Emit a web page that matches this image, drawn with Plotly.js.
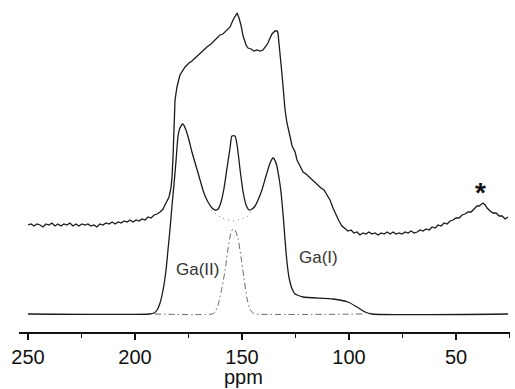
<!DOCTYPE html>
<html>
<head>
<meta charset="utf-8">
<script src="https://cdn.plot.ly/plotly-3.0.1.min.js"></script>
<style>html,body{margin:0;padding:0;background:#fff;}#chart{width:515px;height:389px;}</style>
</head>
<body>
<div id="chart"></div>
<script>
// Experimental spectrum (ppm, intensity)
var expPpm = [250,248.6,247.2,245.8,244.4,243.0,241.6,240.2,238.8,237.4,236.0,234.6,233.2,231.8,230.4,229.0,227.6,226.2,224.8,223.4,222.0,220.6,219.2,217.8,216.4,215.0,213.6,212.1,210.7,209.3,207.9,206.5,205.1,203.7,202.3,200.9,199.5,198.1,196.7,195.3,193.9,192.5,191.1,189.7,188.3,186.9,186.0,185.0,184.1,183.2,182.7,182.2,181.8,181.3,180.4,179.0,176.6,174.8,173.4,171.5,169.6,167.8,166.4,164.5,163.1,161.7,160.3,158.9,157.0,155.6,154.2,153.3,152.3,151.4,150.5,149.5,148.1,147.2,145.8,144.4,143.0,141.6,140.2,138.8,137.9,136.9,136.0,134.6,133.6,133.2,132.7,132.2,131.3,130.8,129.9,129.0,128.0,126.6,125.2,124.3,122.9,121.5,120.1,118.7,117.3,115.9,114.5,113.1,111.7,110.3,108.9,107.5,106.1,104.7,103.3,101.9,100.5,99.1,97.7,96.3,94.9,93.5,92.1,90.7,89.3,87.9,86.4,85.0,83.6,82.2,80.8,79.4,78.0,76.6,75.2,73.8,72.4,71.0,69.6,68.2,66.8,65.4,64.0,62.6,61.2,59.8,58.4,57.0,55.6,54.2,52.8,51.4,50.0,48.6,47.2,45.8,44.4,43.0,41.6,40.2,39.3,38.3,37.4,36.4,35.5,34.1,32.7,31.3,29.9,28.5,27.1,25.7];
var expInt = [89,90,88,90,89,87,90,89,91,88,90,88,90,89,91,88,90,88,90,89,90,88,89,87,90,89,91,90,92,90,92,91,93,92,94,92,94,93,95,94,97,96,99,100,102,105,109,113,117,126,137,159,189,214,227,239,247,251,253,257,261,264,267,270,273,276,279,280,284,287,294,298,301,296,289,278,269,266,265,263,264,263,264,268,271,276,280,283,283,281,272,259,239,224,204,191,181,168,162,154,148,142,140,137,134,132,129,126,124,119,114,106,99,93,88,85,83,84,81,82,79,81,80,82,80,81,79,81,80,82,80,82,80,81,80,82,81,83,81,82,84,83,85,84,87,86,89,88,91,90,93,94,96,96,99,100,102,102,105,108,108,110,111,109,106,103,101,101,98,98,95,97];

// Simulated total spectrum
var simPpm = [250,193.0,191.1,189.7,188.3,186.9,185.5,184.6,183.6,182.7,181.8,180.8,179.9,179.0,177.6,176.2,174.8,173.4,171.5,169.6,167.8,165.9,164.0,162.6,161.2,159.8,158.4,157.0,155.6,154.7,153.3,152.3,150.9,149.5,148.1,146.7,145.3,143.9,142.5,140.7,138.8,136.9,135.5,134.1,132.7,131.8,130.8,129.9,129.0,128.0,126.6,125.2,124.3,121.5,107.5,100.5,96.3,92.5,89.3,25.7];
var simInt = [0,0,1,4,11,24,44,64,86,109,129,154,178,186,190,184,174,162,148,134,121,112,106,104,105,112,126,146,166,178,178,169,144,122,109,104,105,108,114,124,138,151,156,151,136,122,99,74,52,36,25,20,19,17,15,12,7,2,0,0];

// Dotted envelope under the central peak
var dotPpm = [164.5,161.7,159.3,156.5,154.2,151.9,149.1,146.7,145.8];
var dotInt = [104,99,96,94,93,94,96,99,104];

// Ga(II) component (dash-dot)
var gaIIPpm = [190.7,164.0,162.6,161.2,159.3,157.9,156.5,155.1,154.2,153.3,151.9,150.5,149.1,147.7,146.3,144.9,143.5,92.5];
var gaIIInt = [0,0,2,9,27,44,66,82,85,84,76,57,36,16,5,1,0,0];

var tickVals = [250,200,150,100,50];
var tickText = ['250','200','150','100','50'];

var traces = [
  {x: expPpm, y: expInt, mode: 'lines', line: {color: '#1a1a1a', width: 1.3}, hoverinfo: 'skip'},
  {x: simPpm, y: simInt, mode: 'lines', line: {color: '#1a1a1a', width: 1.3, shape: 'spline', smoothing: 0.6}, hoverinfo: 'skip'},
  {x: dotPpm, y: dotInt, mode: 'lines', line: {color: '#777', width: 1, dash: '1px,4px', shape: 'spline'}, hoverinfo: 'skip'},
  {x: gaIIPpm, y: gaIIInt, mode: 'lines', line: {color: '#666', width: 1, dash: '6px,3px,1.5px,3px', shape: 'spline', smoothing: 0.6}, hoverinfo: 'skip'}
];

var font = 'Liberation Sans, Arial, sans-serif';
var layout = {
  width: 515, height: 389,
  margin: {l: 19, r: 5, t: 5, b: 57, pad: 0},
  paper_bgcolor: '#fff', plot_bgcolor: '#fff',
  showlegend: false,
  xaxis: {
    range: [254.2, 24.8], showgrid: false, zeroline: false,
    showline: true, linecolor: '#111', linewidth: 2,
    ticks: 'outside', ticklen: 6, tickwidth: 1.2, tickcolor: '#111',
    tickvals: tickVals, ticktext: tickText,
    tickfont: {family: font, size: 20, color: '#111'},
    minor: {tickvals: [225,175,125,75,25], ticks: 'outside', ticklen: 4, tickwidth: 1, tickcolor: '#111'}
  },
  yaxis: {range: [-18, 309], visible: false, showgrid: false, zeroline: false},
  annotations: [
    {x: 0.458, y: -0.138, xref: 'paper', yref: 'paper', text: 'ppm', showarrow: false, xanchor: 'center', yanchor: 'middle', font: {family: font, size: 20, color: '#111'}},
    {x: 170.8, y: 45, xref: 'x', yref: 'y', text: 'Ga(II)', showarrow: false, xanchor: 'center', yanchor: 'middle', font: {family: font, size: 17, color: '#333'}},
    {x: 114.5, y: 57, xref: 'x', yref: 'y', text: 'Ga(I)', showarrow: false, xanchor: 'center', yanchor: 'middle', font: {family: font, size: 17, color: '#333'}},
    {x: 38.5, y: 122, xref: 'x', yref: 'y', text: '<b>*</b>', showarrow: false, xanchor: 'center', yanchor: 'middle', font: {family: font, size: 28, color: '#111'}}
  ]
};

Plotly.newPlot('chart', traces, layout, {displayModeBar: false, staticPlot: true});
</script>
</body>
</html>
